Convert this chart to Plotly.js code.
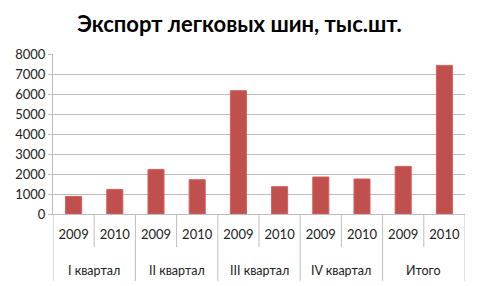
<!DOCTYPE html>
<html>
<head>
<meta charset="utf-8">
<script src="https://cdn.plot.ly/plotly-3.0.1.min.js"></script>
<style>html,body{margin:0;padding:0;background:#fff;}#chart{width:479px;height:286px;}</style>
</head>
<body>
<div id="chart"></div>
<script>
const groups = ["I квартал","I квартал","II квартал","II квартал","III квартал","III квартал","IV квартал","IV квартал","Итого","Итого"];
const years = ["2009","2010","2009","2010","2009","2010","2009","2010","2009","2010"];
const values = [880, 1230, 2230, 1715, 6165, 1365, 1850, 1750, 2380, 7430];
const yTicks = [0,1000,2000,3000,4000,5000,6000,7000,8000];

const font = "Lato, 'Open Sans', sans-serif";
const idx = years.map((_, i) => i);

// group structure derived from the category arrays
const groupNames = [];
const groupIdx = {};
groups.forEach((g, i) => {
  if (!(g in groupIdx)) { groupIdx[g] = []; groupNames.push(g); }
  groupIdx[g].push(i);
});

const plotH = 286 - 54 - 72;
const innerLen = -33 / plotH;
const outerLen = -67 / plotH;
const lineColor = "#BEBEBE";

const shapes = [];
for (let i = 0; i <= idx.length; i++) {
  const b = i - 0.5;
  const isGroupEdge = i === 0 || i === idx.length || groups[i] !== groups[i - 1];
  shapes.push({type: "line", xref: "x", yref: "paper", x0: b, x1: b, y0: 0, y1: isGroupEdge ? outerLen : innerLen,
    line: {color: lineColor, width: 1}});
}

const annotations = groupNames.map(g => {
  const ii = groupIdx[g];
  const c = ii.reduce((a, b) => a + b, 0) / ii.length;
  return {x: c, xref: "x", y: -56 / plotH, yref: "paper", yanchor: "middle", xanchor: "center",
    text: g, showarrow: false, font: {family: font, size: 12.5, color: "#222"}};
});

Plotly.newPlot("chart", [{
  type: "bar",
  x: idx,
  y: values,
  marker: {color: "#C0504D", line: {color: "#D4605C", width: 1}},
  hoverinfo: "none"
}], {
  width: 479, height: 286,
  margin: {l: 53, r: 14, t: 54, b: 72},
  paper_bgcolor: "#fff", plot_bgcolor: "#fff",
  bargap: 0.61,
  showlegend: false,
  title: {text: "<b>Экспорт легковых шин, тыс.шт.</b>", font: {family: font, size: 22, color: "#000"}, x: 0.5, xanchor: "center", y: 0.915, yanchor: "middle"},
  xaxis: {
    type: "linear",
    range: [-0.5, idx.length - 0.5],
    tickvals: idx,
    ticktext: years,
    tickfont: {family: font, size: 13, color: "#222"},
    ticks: "",
    ticklabelstandoff: 8,
    showline: true, linecolor: lineColor, linewidth: 1,
    showgrid: false, zeroline: false,
    fixedrange: true
  },
  yaxis: {
    range: [0, 8000],
    tickvals: yTicks,
    ticktext: yTicks.map(String),
    tickfont: {family: font, size: 13, color: "#222"},
    showgrid: true, gridcolor: lineColor, gridwidth: 1,
    showline: true, linecolor: lineColor, linewidth: 1,
    ticks: "outside", ticklen: 4, tickcolor: lineColor,
    zeroline: false,
    fixedrange: true
  },
  shapes: shapes,
  annotations: annotations
}, {staticPlot: true});
</script>
</body>
</html>
